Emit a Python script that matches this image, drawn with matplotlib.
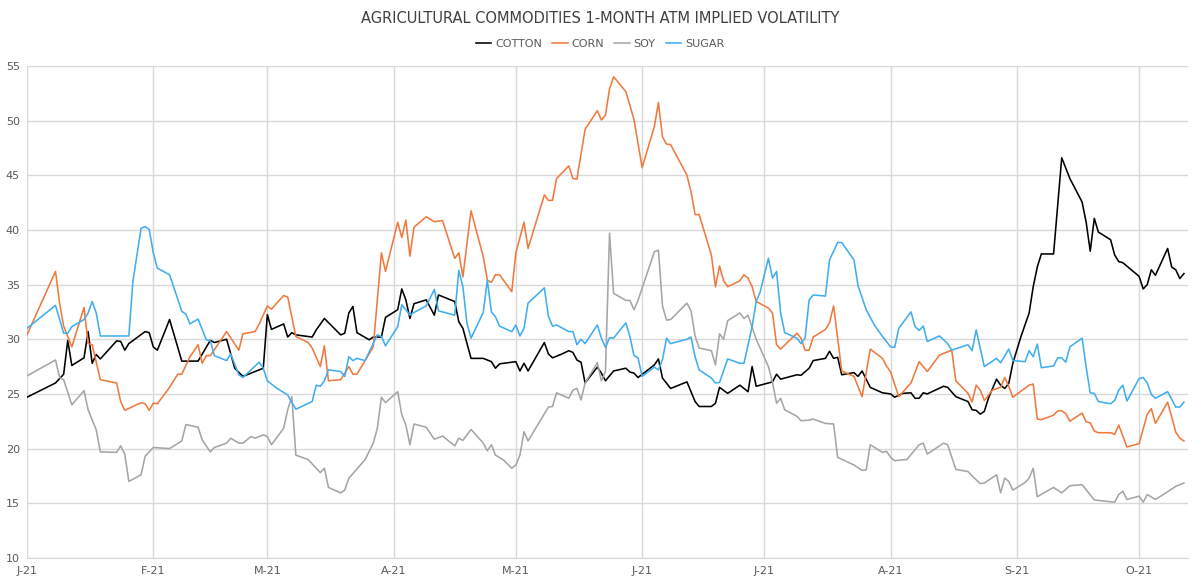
import matplotlib
matplotlib.use("Agg")
import matplotlib.pyplot as plt
import pandas as pd

# dates (2021, MM-DD) and implied vol values
cotton_dates = [
    "01-01", "01-08", "01-10", "01-11", "01-12", "01-15", "01-16", "01-17", "01-18", "01-19",
    "01-23", "01-24", "01-25", "01-26", "01-30", "01-31", "02-01", "02-02", "02-05", "02-08",
    "02-12", "02-15", "02-16", "02-19", "02-21", "02-23", "02-28", "03-01", "03-02", "03-05",
    "03-06", "03-07", "03-08", "03-12", "03-13", "03-15", "03-19", "03-20", "03-21", "03-22",
    "03-23", "03-26", "03-27", "03-29", "03-30", "04-02", "04-03", "04-04", "04-05", "04-06",
    "04-09", "04-11", "04-12", "04-16", "04-17", "04-18", "04-20", "04-23", "04-25", "04-26",
    "04-27", "05-01", "05-02", "05-03", "05-04", "05-08", "05-09", "05-10", "05-12", "05-14",
    "05-15", "05-16", "05-17", "05-18", "05-21", "05-22", "05-23", "05-25", "05-28", "05-29",
    "05-30", "05-31", "06-04", "06-05", "06-06", "06-08", "06-12", "06-14", "06-15", "06-18",
    "06-19", "06-20", "06-22", "06-25", "06-27", "06-28", "06-29", "07-03", "07-04", "07-05",
    "07-09", "07-10", "07-12", "07-13", "07-16", "07-17", "07-18", "07-19", "07-20", "07-23",
    "07-24", "07-25", "07-27", "07-30", "08-01", "08-02", "08-04", "08-06", "08-07", "08-08",
    "08-09", "08-10", "08-14", "08-15", "08-17", "08-20", "08-21", "08-22", "08-23", "08-24",
    "08-25", "08-27", "08-28", "08-29", "08-30", "08-31", "09-02", "09-04", "09-05", "09-06",
    "09-07", "09-10", "09-12", "09-14", "09-17", "09-18", "09-19", "09-20", "09-21", "09-24",
    "09-25", "09-26", "09-27", "10-01", "10-02", "10-03", "10-04", "10-05", "10-08", "10-09",
    "10-10", "10-11", "10-12",
]
cotton = [
    24.7, 26.0, 26.8, 29.9, 27.6, 28.3, 30.7, 27.8, 28.6, 28.2,
    29.85, 29.8, 29.0, 29.6, 30.7, 30.6, 29.3, 29.0, 31.8, 28.0,
    28.0, 29.9, 29.7, 30.0, 27.35, 26.6, 27.35, 32.25, 30.9, 31.4,
    30.2, 30.6, 30.4, 30.2, 30.85, 31.9, 30.4, 30.55, 32.4, 33.0,
    30.6, 29.95, 30.2, 30.2, 32.0, 32.7, 34.6, 33.6, 31.9, 33.25,
    33.6, 32.2, 34.05, 33.45, 31.6, 31.0, 28.25, 28.25, 27.95, 27.35,
    27.75, 27.95, 27.1, 27.8, 27.1, 29.7, 28.65, 28.3, 28.6, 28.95,
    28.8, 28.1, 27.9, 26.0, 27.45, 26.9, 26.2, 27.1, 27.35, 27.0,
    26.9, 26.5, 27.65, 28.2, 26.45, 25.5, 26.1, 24.3, 23.85, 23.85,
    24.15, 25.6, 25.05, 25.8, 25.2, 27.5, 25.7, 26.1, 26.8, 26.35,
    26.75, 26.7, 27.35, 28.05, 28.25, 28.9, 28.25, 28.35, 26.75, 26.95,
    26.6, 27.1, 25.6, 25.1, 25.0, 24.7, 25.05, 25.1, 24.6, 24.6,
    25.1, 25.0, 25.7, 25.6, 24.75, 24.3, 23.55, 23.5, 23.15, 23.4,
    24.6, 26.35, 25.8, 25.5, 25.95, 27.8, 30.25, 32.4, 34.8, 36.6,
    37.8, 37.8, 46.6, 44.7, 42.55, 40.7, 38.05, 41.05, 39.8, 39.1,
    37.7, 37.1, 37.0, 35.75, 34.6, 35.0, 36.35, 35.85, 38.3, 36.6,
    36.35, 35.55, 36.0,
]

corn_dates = [
    "01-01", "01-08", "01-09", "01-10", "01-12", "01-15", "01-16", "01-17", "01-19", "01-23",
    "01-24", "01-25", "01-29", "01-30", "01-31", "02-01", "02-02", "02-05", "02-07", "02-08",
    "02-10", "02-12", "02-13", "02-14", "02-15", "02-19", "02-22", "02-23", "02-26", "02-27",
    "03-01", "03-02", "03-05", "03-06", "03-08", "03-11", "03-12", "03-14", "03-15", "03-16",
    "03-19", "03-21", "03-22", "03-23", "03-27", "03-29", "03-30", "04-02", "04-03", "04-04",
    "04-05", "04-06", "04-09", "04-11", "04-13", "04-16", "04-17", "04-18", "04-20", "04-23",
    "04-24", "04-25", "04-26", "04-27", "04-30", "05-01", "05-03", "05-04", "05-08", "05-09",
    "05-10", "05-11", "05-14", "05-15", "05-16", "05-18", "05-21", "05-22", "05-23", "05-24",
    "05-25", "05-28", "05-30", "06-01", "06-04", "06-05", "06-06", "06-07", "06-08", "06-12",
    "06-13", "06-14", "06-15", "06-18", "06-19", "06-20", "06-21", "06-22", "06-25", "06-26",
    "06-27", "06-28", "06-29", "07-02", "07-03", "07-04", "07-05", "07-09", "07-10", "07-11",
    "07-12", "07-13", "07-16", "07-17", "07-18", "07-20", "07-23", "07-25", "07-27", "07-30",
    "07-31", "08-01", "08-03", "08-06", "08-08", "08-10", "08-13", "08-16", "08-17", "08-20",
    "08-21", "08-22", "08-23", "08-24", "08-26", "08-28", "08-29", "08-30", "08-31", "09-04",
    "09-05", "09-06", "09-07", "09-10", "09-11", "09-12", "09-13", "09-14", "09-17", "09-18",
    "09-19", "09-20", "09-21", "09-24", "09-25", "09-26", "09-28", "10-01", "10-03", "10-04",
    "10-05", "10-08", "10-10", "10-11", "10-12",
]
corn = [
    30.4, 36.2, 33.3, 31.2, 29.3, 32.9, 29.6, 29.5, 26.3, 26.0,
    24.3, 23.5, 24.2, 24.1, 23.5, 24.15, 24.1, 25.6, 26.8, 26.8,
    28.4, 29.5, 27.8, 28.5, 28.5, 30.7, 29.0, 30.5, 30.7, 31.4,
    33.05, 32.75, 34.0, 33.85, 30.25, 29.7, 29.2, 27.5, 29.4, 26.2,
    26.3, 27.5, 26.8, 26.8, 29.3, 37.9, 36.2, 40.7, 39.3, 40.9,
    37.6, 40.25, 41.2, 40.75, 40.85, 37.4, 37.9, 35.7, 41.75, 37.55,
    35.4, 35.2, 35.9, 35.9, 34.35, 37.9, 40.7, 38.3, 43.2, 42.7,
    42.7, 44.7, 45.85, 44.7, 44.65, 49.2, 50.9, 50.05, 50.5, 52.9,
    54.0, 52.65, 50.1, 45.7, 49.45, 51.65, 48.5, 47.85, 47.8, 45.0,
    43.5, 41.4, 41.4, 37.7, 34.8, 36.7, 35.35, 34.8, 35.35, 35.9,
    35.6, 34.8, 33.45, 32.85, 32.4, 29.5, 29.1, 30.55, 30.1, 29.0,
    29.0, 30.2, 30.9, 31.5, 33.05, 27.1, 26.6, 24.75, 29.1, 28.25,
    27.55, 27.0, 24.75, 26.0, 27.95, 27.05, 28.55, 29.0, 26.2, 25.05,
    24.25, 25.8, 25.35, 24.4, 25.35, 25.6, 26.5, 25.7, 24.7, 25.8,
    25.9, 22.7, 22.65, 23.05, 23.45, 23.45, 23.2, 22.5, 23.25, 22.45,
    22.35, 21.6, 21.45, 21.45, 21.3, 22.15, 20.15, 20.45, 23.15, 23.65,
    22.3, 24.25, 21.5, 20.95, 20.7,
]

soy_dates = [
    "01-01", "01-08", "01-09", "01-10", "01-12", "01-15", "01-16", "01-18", "01-19", "01-23",
    "01-24", "01-25", "01-26", "01-29", "01-30", "02-01", "02-05", "02-08", "02-09", "02-12",
    "02-13", "02-15", "02-16", "02-19", "02-20", "02-22", "02-23", "02-25", "02-26", "02-28",
    "03-01", "03-02", "03-05", "03-06", "03-07", "03-08", "03-11", "03-14", "03-15", "03-16",
    "03-19", "03-20", "03-21", "03-22", "03-25", "03-27", "03-28", "03-29", "03-30", "04-02",
    "04-03", "04-04", "04-05", "04-06", "04-09", "04-11", "04-13", "04-16", "04-17", "04-18",
    "04-20", "04-23", "04-24", "04-25", "04-26", "04-28", "04-30", "05-01", "05-02", "05-03",
    "05-04", "05-09", "05-10", "05-11", "05-14", "05-15", "05-16", "05-17", "05-18", "05-21",
    "05-22", "05-23", "05-24", "05-25", "05-28", "05-29", "05-30", "05-31", "06-04", "06-05",
    "06-06", "06-07", "06-08", "06-12", "06-13", "06-14", "06-15", "06-18", "06-19", "06-20",
    "06-21", "06-22", "06-25", "06-26", "06-27", "06-29", "07-02", "07-03", "07-04", "07-05",
    "07-06", "07-09", "07-10", "07-12", "07-13", "07-16", "07-18", "07-19", "07-23", "07-25",
    "07-26", "07-27", "07-30", "07-31", "08-01", "08-02", "08-05", "08-08", "08-09", "08-10",
    "08-14", "08-15", "08-17", "08-20", "08-21", "08-23", "08-24", "08-27", "08-28", "08-29",
    "08-30", "08-31", "09-03", "09-04", "09-05", "09-06", "09-10", "09-12", "09-14", "09-17",
    "09-20", "09-25", "09-26", "09-27", "09-28", "10-01", "10-02", "10-03", "10-05", "10-08",
    "10-10", "10-12",
]
soy = [
    26.65, 28.1, 26.5, 26.3, 24.0, 25.3, 23.55, 21.7, 19.7, 19.65,
    20.25, 19.5, 17.0, 17.6, 19.3, 20.1, 20.0, 20.7, 22.2, 21.95,
    20.8, 19.7, 20.1, 20.5, 20.95, 20.5, 20.5, 21.1, 20.95, 21.25,
    21.1, 20.35, 21.85, 23.55, 24.75, 19.4, 19.0, 17.8, 18.2, 16.45,
    15.95, 16.2, 17.3, 17.7, 19.0, 20.5, 21.85, 24.7, 24.2, 25.2,
    23.1, 22.15, 20.35, 22.25, 21.95, 20.85, 21.15, 20.25, 20.95, 20.75,
    21.75, 20.5, 19.8, 20.35, 19.4, 18.95, 18.2, 18.5, 19.4, 21.55,
    20.7, 23.8, 23.85, 25.1, 24.6, 25.35, 25.5, 24.45, 26.0, 27.85,
    26.2, 27.05, 39.7, 34.2, 33.55, 33.55, 32.7, 33.55, 38.0, 38.15,
    33.05, 31.75, 31.8, 33.3, 32.6, 30.3, 29.2, 28.95, 27.65, 30.5,
    30.0, 31.7, 32.4, 31.9, 32.2, 30.0, 27.5, 26.05, 24.15, 24.6,
    23.55, 22.95, 22.55, 22.6, 22.7, 22.3, 22.25, 19.2, 18.5, 18.0,
    18.05, 20.35, 19.65, 19.75, 19.2, 18.9, 19.0, 20.35, 20.5, 19.5,
    20.5, 20.35, 18.1, 17.9, 17.5, 16.8, 16.85, 17.6, 15.95, 17.3,
    17.0, 16.2, 16.9, 17.3, 18.2, 15.6, 16.45, 15.95, 16.6, 16.7,
    15.3, 15.1, 15.8, 16.1, 15.35, 15.65, 15.1, 15.8, 15.35, 16.05,
    16.55, 16.85,
]

sugar_dates = [
    "01-01", "01-08", "01-10", "01-11", "01-12", "01-15", "01-16", "01-17", "01-18", "01-19",
    "01-26", "01-27", "01-29", "01-30", "01-31", "02-01", "02-02", "02-05", "02-08", "02-09",
    "02-10", "02-12", "02-14", "02-15", "02-16", "02-19", "02-20", "02-22", "02-23", "02-27",
    "02-28", "03-01", "03-03", "03-06", "03-08", "03-12", "03-13", "03-14", "03-15", "03-16",
    "03-19", "03-20", "03-21", "03-22", "03-23", "03-25", "03-28", "03-29", "03-30", "04-02",
    "04-03", "04-04", "04-05", "04-06", "04-09", "04-11", "04-12", "04-16", "04-17", "04-18",
    "04-19", "04-20", "04-23", "04-24", "04-25", "04-26", "04-27", "04-30", "05-01", "05-02",
    "05-03", "05-04", "05-08", "05-09", "05-10", "05-11", "05-14", "05-15", "05-16", "05-17",
    "05-18", "05-21", "05-22", "05-23", "05-24", "05-25", "05-28", "05-29", "05-30", "05-31",
    "06-01", "06-04", "06-05", "06-06", "06-07", "06-08", "06-12", "06-13", "06-14", "06-15",
    "06-18", "06-19", "06-20", "06-22", "06-25", "06-26", "06-28", "06-29", "06-30", "07-01",
    "07-02", "07-03", "07-04", "07-05", "07-06", "07-09", "07-10", "07-11", "07-12", "07-13",
    "07-16", "07-17", "07-19", "07-20", "07-23", "07-24", "07-26", "07-28", "07-30", "08-01",
    "08-02", "08-03", "08-06", "08-07", "08-08", "08-09", "08-10", "08-13", "08-15", "08-16",
    "08-20", "08-21", "08-22", "08-24", "08-27", "08-28", "08-30", "08-31", "09-03", "09-04",
    "09-05", "09-06", "09-07", "09-10", "09-11", "09-12", "09-13", "09-14", "09-17", "09-18",
    "09-19", "09-20", "09-21", "09-24", "09-25", "09-26", "09-27", "09-28", "10-01", "10-02",
    "10-03", "10-04", "10-05", "10-08", "10-10", "10-11", "10-12",
]
sugar = [
    31.0, 33.1, 30.55, 30.55, 31.15, 31.8, 32.4, 33.45, 32.4, 30.3,
    30.3, 35.3, 40.15, 40.3, 40.05, 37.9, 36.5, 35.9, 32.55, 32.3,
    31.4, 31.85, 29.95, 29.85, 28.5, 28.05, 28.65, 26.75, 26.5, 27.9,
    27.35, 26.2, 25.6, 24.9, 23.6, 24.3, 25.8, 25.7, 26.2, 27.2,
    27.05, 26.6, 28.4, 28.05, 28.25, 28.05, 30.4, 30.25, 29.4, 31.15,
    33.15, 32.7, 32.2, 32.45, 33.05, 34.55, 32.6, 32.2, 36.3, 34.8,
    31.45, 30.1, 32.45, 35.4, 32.5, 32.05, 31.2, 30.7, 31.3, 30.3,
    31.0, 33.3, 34.7, 32.1, 31.2, 31.3, 30.7, 30.7, 29.5, 30.0,
    29.6, 31.3, 30.1, 29.25, 30.15, 30.1, 31.5, 30.25, 28.5, 28.3,
    26.6, 27.45, 27.2, 28.15, 30.1, 29.6, 30.0, 30.2, 28.4, 27.2,
    26.45, 26.0, 26.05, 28.2, 27.8, 27.8, 31.15, 33.45, 34.35, 35.9,
    37.4, 35.6, 36.2, 32.4, 30.6, 30.1, 29.6, 30.1, 33.6, 34.05,
    33.95, 37.25, 38.85, 38.85, 37.25, 34.9, 32.7, 31.3, 30.25, 29.3,
    29.25, 31.0, 32.5, 31.15, 30.8, 31.2, 29.8, 30.3, 29.6, 29.0,
    29.5, 28.95, 30.85, 27.5, 28.25, 27.85, 29.1, 28.05, 27.95, 28.95,
    28.4, 29.55, 27.4, 27.55, 28.3, 28.3, 27.9, 29.3, 30.1, 27.45,
    25.1, 25.05, 24.3, 24.1, 24.4, 25.35, 25.8, 24.35, 26.4, 26.5,
    26.0, 24.95, 24.6, 25.2, 23.8, 23.8, 24.25,
]

series_names = ["COTTON", "CORN", "SOY", "SUGAR"]
series_colors = ["#000000", "#F07A3E", "#A6A6A6", "#41AEEF"]
month_ticks = ["2021-01-01", "2021-02-01", "2021-03-01", "2021-04-01", "2021-05-01",
               "2021-06-01", "2021-07-01", "2021-08-01", "2021-09-01", "2021-10-01"]
month_labels = ["J-21", "F-21", "M-21", "A-21", "M-21", "J-21", "J-21", "A-21", "S-21", "O-21"]
y_ticks = [10, 15, 20, 25, 30, 35, 40, 45, 50, 55]

FONT = ["Liberation Sans Narrow", "DejaVu Sans"]
TEXT_GREY = "#595959"


def to_dates(days):
    return pd.to_datetime(["2021-" + d for d in days])


fig = plt.figure(figsize=(12, 5.83), dpi=100)
ax = fig.add_axes([0.0225, 0.043, 0.9675, 0.844])

all_series = [(cotton_dates, cotton), (corn_dates, corn), (soy_dates, soy), (sugar_dates, sugar)]
for (days, vals), name, color in zip(all_series, series_names, series_colors):
    ax.plot(to_dates(days), vals, color=color, lw=1.15, label=name, zorder=3)

ax.set_ylim(10, 55)
ax.set_xlim(pd.Timestamp("2021-01-01"), pd.Timestamp("2021-10-13"))
ax.set_yticks(y_ticks)
ax.set_xticks(pd.to_datetime(month_ticks))
ax.set_xticklabels(month_labels)
ax.grid(True, color="#D9D9D9", lw=1.0, zorder=0)
for side in ["top", "right", "left"]:
    ax.spines[side].set_visible(False)
ax.spines["bottom"].set_color("#D9D9D9")
ax.tick_params(length=0, colors=TEXT_GREY, labelsize=8)
ax.tick_params(axis="x", pad=6)
ax.tick_params(axis="y", pad=5)
for lbl in ax.get_xticklabels() + ax.get_yticklabels():
    lbl.set_family(FONT)

fig.text(0.5, 0.968, "AGRICULTURAL COMMODITIES 1-MONTH ATM IMPLIED VOLATILITY",
         ha="center", va="center", fontsize=10.5, color="#404040", family=FONT)
leg = fig.legend(loc="center", bbox_to_anchor=(0.5, 0.924), ncol=4, frameon=False,
                 handlelength=1.4, handletextpad=0.35, columnspacing=0.9,
                 prop={"family": FONT, "size": 8})
for t in leg.get_texts():
    t.set_color(TEXT_GREY)

fig.savefig("out.png", dpi=100)
